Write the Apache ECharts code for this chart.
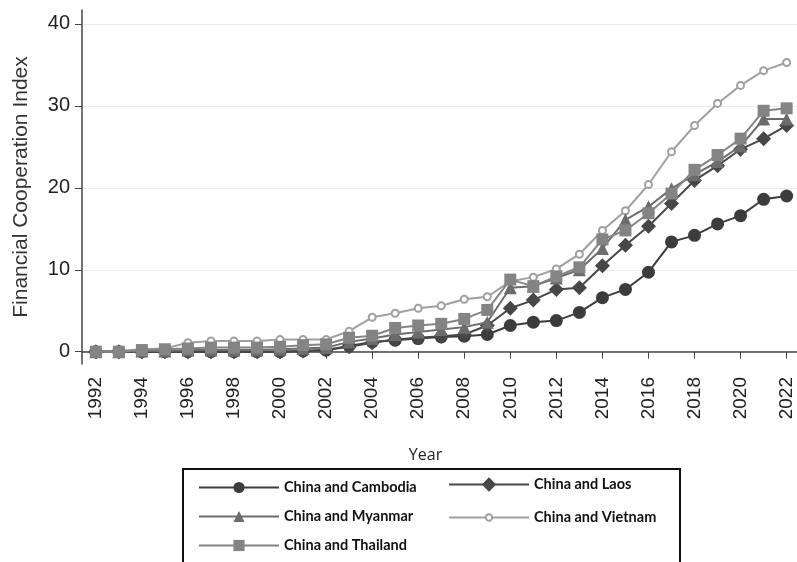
<!DOCTYPE html>
<html>
<head>
<meta charset="utf-8">
<script src="https://cdn.jsdelivr.net/npm/echarts@6/dist/echarts.min.js"></script>
<style>
html,body{margin:0;padding:0;background:#fff;}
#c{width:797px;height:562px;}
</style>
</head>
<body>
<div id="c"></div>
<script>
const years = [1992,1993,1994,1995,1996,1997,1998,1999,2000,2001,2002,2003,2004,2005,2006,2007,2008,2009,2010,2011,2012,2013,2014,2015,2016,2017,2018,2019,2020,2021,2022];
const cambodia = [0,0,0,0,0,0,0,0,0,0.1,0.2,0.7,1.2,1.4,1.6,1.8,1.9,2.1,3.2,3.6,3.8,4.8,6.6,7.6,9.7,13.4,14.2,15.6,16.6,18.6,19.0];
const laos     = [0,0,0,0,0,0,0,0,0,0.1,0.2,0.6,1.1,1.5,1.7,1.9,2.1,3.2,5.3,6.3,7.6,7.8,10.5,13.0,15.3,18.1,20.9,22.7,24.7,26.0,27.6];
const myanmar  = [0,0,0.1,0.1,0.2,0.2,0.2,0.2,0.3,0.4,0.5,1.2,1.6,2.1,2.4,2.7,3.0,3.6,7.8,8.0,9.0,10.0,12.6,16.1,17.7,19.9,21.6,23.2,25.1,28.4,28.4];
const vietnam  = [0,0.1,0.3,0.4,1.1,1.3,1.3,1.3,1.5,1.5,1.5,2.5,4.2,4.7,5.3,5.6,6.4,6.7,8.6,9.1,10.1,11.9,14.8,17.2,20.4,24.4,27.6,30.3,32.5,34.3,35.3];
const thailand = [0,0,0.2,0.3,0.4,0.5,0.5,0.5,0.6,0.8,0.9,1.7,1.95,2.9,3.2,3.4,4.0,5.1,8.8,8.0,9.2,10.3,13.7,14.8,16.9,19.3,22.2,24.0,26.0,29.4,29.7];
const yTicks = [0,10,20,30,40];
const xTicks = [1992,1994,1996,1998,2000,2002,2004,2006,2008,2010,2012,2014,2016,2018,2020,2022];

const names = ['China and Cambodia','China and Laos','China and Myanmar','China and Vietnam','China and Thailand'];
const pair = arr => years.map((y,i)=>[y,arr[i]]);

const chart = echarts.init(document.getElementById('c'));
const legendText = {fontFamily:'Lato', fontWeight:'bold', fontSize:14.5, color:'#111'};
function lg(name, left, top, h){
  return {data:[name], left:left, top:top, itemWidth:80, itemHeight:h, itemGap:0,
    textStyle:legendText, padding:0, selectedMode:false};
}
chart.setOption({
  animation:false,
  backgroundColor:'#fff',
  grid:{left:82, right:0, top:10, bottom:198},
  xAxis:{
    type:'value', min:1991.4, max:2022.45,
    name:'Year', nameLocation:'middle', nameGap:83,
    nameTextStyle:{fontFamily:'Open Sans', fontSize:16, color:'#222', padding:[0,28,0,0]},
    axisLine:{show:true, lineStyle:{color:'#444', width:1.5}},
    axisTick:{show:true, customValues:xTicks, length:7, lineStyle:{color:'#444'}},
    axisLabel:{customValues:xTicks, formatter:v=>String(v), rotate:90, fontFamily:'Liberation Sans', fontSize:19, color:'#222', margin:13},
    splitLine:{show:false}
  },
  yAxis:{
    type:'value', min:-1.5, max:41.7,
    name:'Financial Cooperation Index', nameLocation:'middle', nameGap:50,
    nameTextStyle:{fontFamily:'Liberation Sans', fontSize:21, color:'#333'},
    axisLine:{show:true, lineStyle:{color:'#444', width:1.5}},
    axisTick:{show:true, customValues:yTicks, length:7, lineStyle:{color:'#444'}},
    axisLabel:{customValues:yTicks, fontFamily:'Liberation Sans', fontSize:20, color:'#222', margin:12},
    splitLine:{show:true, lineStyle:{color:'#ececec', width:1}}
  },
  legend:[
    lg(names[0], 198, 480, 14),
    lg(names[1], 448, 477, 18),
    lg(names[2], 198, 509, 14),
    lg(names[3], 448, 510, 8),
    lg(names[4], 198, 538, 14)
  ],
  graphic:[{type:'rect', shape:{x:183, y:469, width:497, height:100}, style:{fill:'none', stroke:'#111', lineWidth:2}}],
  series:[
    {name:names[3], type:'line', data:pair(vietnam), symbol:'emptyCircle', symbolSize:7, z:1,
      itemStyle:{color:'#a0a0a0', borderWidth:1.5}, lineStyle:{color:'#a0a0a0', width:2}},
    {name:names[0], type:'line', data:pair(cambodia), symbol:'circle', symbolSize:13, z:2,
      itemStyle:{color:'#3c3c3c'}, lineStyle:{color:'#3c3c3c', width:2}},
    {name:names[1], type:'line', data:pair(laos), symbol:'diamond', symbolSize:15, z:3,
      itemStyle:{color:'#474747'}, lineStyle:{color:'#474747', width:2}},
    {name:names[2], type:'line', data:pair(myanmar), symbol:'triangle', symbolSize:13, z:4,
      itemStyle:{color:'#6c6c6c'}, lineStyle:{color:'#6c6c6c', width:2}},
    {name:names[4], type:'line', data:pair(thailand), symbol:'rect', symbolSize:12, z:5,
      itemStyle:{color:'#848484'}, lineStyle:{color:'#848484', width:2}}
  ]
});
</script>
</body>
</html>
